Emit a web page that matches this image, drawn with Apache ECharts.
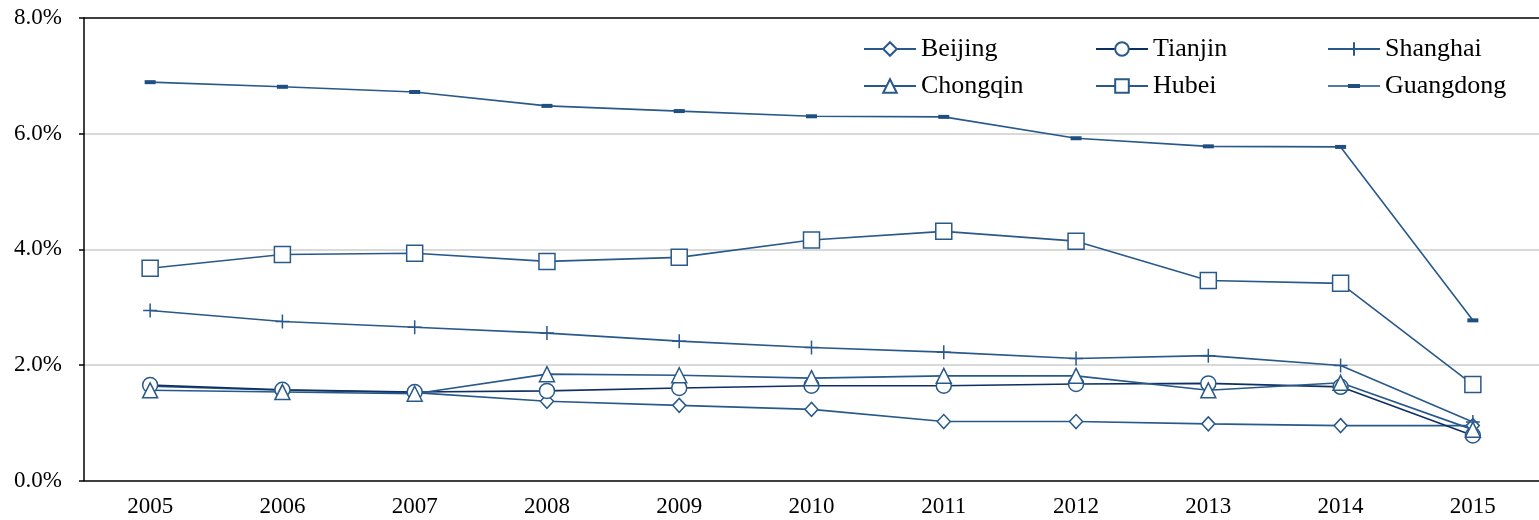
<!DOCTYPE html>
<html>
<head>
<meta charset="utf-8">
<script src="https://cdn.jsdelivr.net/npm/echarts@6/dist/echarts.min.js"></script>
<style>
  html, body { margin: 0; padding: 0; background: #fff; }
  #main { width: 1539px; height: 520px; }
</style>
</head>
<body>
<div id="main"></div>
<script>
// years on the x axis
const years = ['2005', '2006', '2007', '2008', '2009', '2010', '2011', '2012', '2013', '2014', '2015'];

// values in percent
const beijing   = [1.63, 1.56, 1.52, 1.37, 1.30, 1.23, 1.02, 1.02, 0.98, 0.95, 0.95];
const tianjin   = [1.65, 1.57, 1.53, 1.55, 1.60, 1.64, 1.64, 1.67, 1.68, 1.62, 0.78];
const shanghai  = [2.94, 2.75, 2.65, 2.55, 2.41, 2.30, 2.22, 2.11, 2.16, 1.99, 1.01];
const chongqin  = [1.56, 1.53, 1.50, 1.84, 1.82, 1.77, 1.81, 1.81, 1.56, 1.69, 0.88];
const hubei     = [3.67, 3.91, 3.93, 3.79, 3.86, 4.16, 4.31, 4.14, 3.46, 3.41, 1.66];
const guangdong = [6.89, 6.81, 6.72, 6.48, 6.39, 6.30, 6.29, 5.92, 5.78, 5.77, 2.77];

const blue = '#28598a';
const navy = '#0e2f62';
const font = 'Liberation Serif';

// hollow marker line
function hollow(name, data, symbol, size, lineColor) {
  return {
    name: name,
    type: 'line',
    data: data,
    symbol: symbol,
    symbolSize: size,
    showAllSymbol: true,
    lineStyle: { color: lineColor || blue, width: 1.6 },
    itemStyle: { color: '#fff', borderColor: blue, borderWidth: 1.5 },
    emphasis: { disabled: true },
    animation: false
  };
}

const chart = echarts.init(document.getElementById('main'));

function legendCol(left, names) {
  return {
    orient: 'vertical',
    left: left,
    top: 31,
    itemWidth: 52,
    itemHeight: 17,
    itemGap: 11,
    selectedMode: false,
    textStyle: { fontFamily: font, fontSize: 26, color: '#000' },
    data: names
  };
}

// legend icon for Guangdong: thin line with a short thick dash in the middle
// (tiny slivers at top and bottom keep the path box at 52x17)
const dashIcon = 'path://M0,0 L52,0 L52,0.01 Z M0,7.8 L52,7.8 L52,9.2 L0,9.2 Z M20,6.5 L32,6.5 L32,10.5 L20,10.5 Z M0,17 L52,17 L52,16.99 Z';

const option = {
  backgroundColor: '#fff',
  grid: {
    left: 84,
    right: -3,
    top: 18,
    bottom: 39.5
  },
  legend: [
    legendCol(858, ['Beijing', 'Chongqin']),
    legendCol(1090, ['Tianjin', 'Hubei']),
    legendCol(1322, ['Shanghai', { name: 'Guangdong', icon: dashIcon }])
  ],
  xAxis: [{
    type: 'category',
    data: years,
    boundaryGap: true,
    axisLine: { lineStyle: { color: '#000', width: 1.5 } },
    axisTick: { inside: true, length: 7, lineStyle: { color: '#000', width: 1.5 } },
    axisLabel: { fontFamily: font, fontSize: 23, color: '#000', margin: 15 }
  }, {
    // top frame line only
    type: 'category',
    data: years,
    position: 'top',
    axisLine: { lineStyle: { color: '#000', width: 1.5 } },
    axisTick: { show: false },
    axisLabel: { show: false }
  }],
  yAxis: {
    type: 'value',
    min: 0,
    max: 8,
    interval: 2,
    axisLine: { show: true, lineStyle: { color: '#000', width: 1.5 } },
    axisTick: { show: true, length: 5, lineStyle: { color: '#000', width: 1.5 } },
    axisLabel: {
      fontFamily: font, fontSize: 23, color: '#000', margin: 22,
      formatter: function (v) { return v.toFixed(1) + '%'; }
    },
    splitLine: { showMinLine: false, showMaxLine: false, lineStyle: { color: '#d9d9d9', width: 2 } }
  },
  series: [
    hollow('Beijing', beijing, 'diamond', [13, 14]),
    hollow('Tianjin', tianjin, 'circle', 15, navy),
    hollow('Shanghai', shanghai, 'path://M0,6 L12,6 M6,0 L6,12', 14),
    hollow('Chongqin', chongqin, 'triangle', [15, 15]),
    hollow('Hubei', hubei, 'rect', 16),
    {
      name: 'Guangdong',
      type: 'line',
      data: guangdong,
      symbol: 'rect',
      symbolSize: [11, 4],
      lineStyle: { color: blue, width: 1.6 },
      itemStyle: { color: '#1f4f80' },
      emphasis: { disabled: true },
      animation: false
    }
  ]
};

chart.setOption(option);
</script>
</body>
</html>
